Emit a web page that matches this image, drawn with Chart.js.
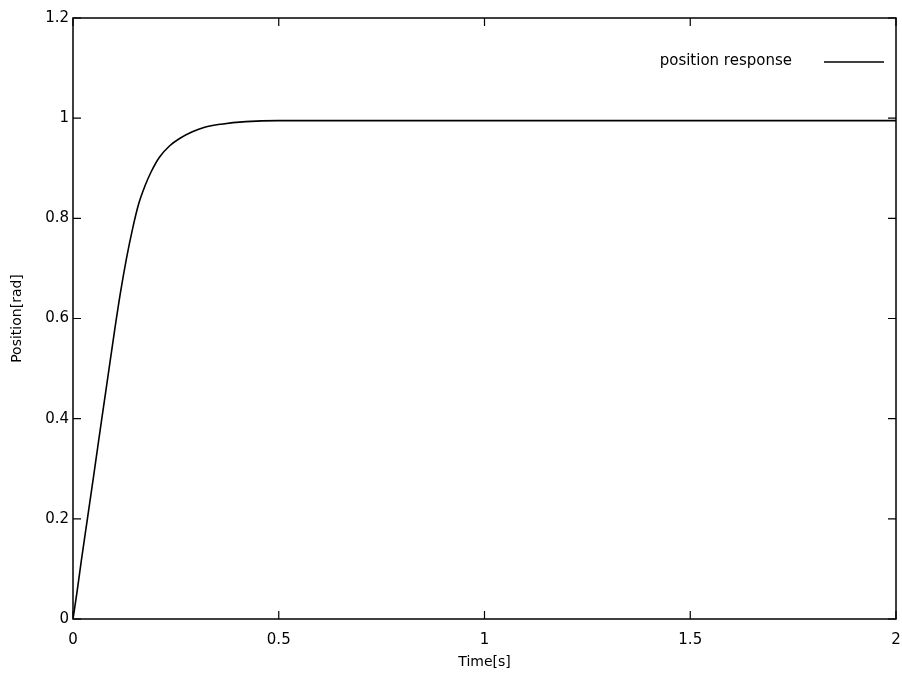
<!DOCTYPE html>
<html>
<head>
<meta charset="utf-8">
<script src="https://cdn.jsdelivr.net/npm/chart.js@4/dist/chart.umd.min.js"></script>
<style>
  html, body { margin: 0; padding: 0; background: #fff; }
  #wrap { width: 902px; height: 681px; }
</style>
</head>
<body>
<div id="wrap"><canvas id="response_chart" width="902" height="681"></canvas></div>
<script>
// values
const time_values = [0, 0.01, 0.02, 0.035, 0.05, 0.07, 0.085, 0.1, 0.115, 0.13, 0.145, 0.16, 0.175, 0.19, 0.21, 0.235, 0.26, 0.29, 0.32, 0.36, 0.42, 0.5, 0.75, 1.0, 1.5, 2.0];
const position_values = [0, 0.055, 0.115, 0.2, 0.285, 0.4, 0.485, 0.57, 0.65, 0.72, 0.78, 0.83, 0.865, 0.893, 0.922, 0.945, 0.96, 0.973, 0.982, 0.988, 0.993, 0.995, 0.995, 0.995, 0.995, 0.995];
const x_ticks = [0, 0.5, 1, 1.5, 2];
const y_ticks = [0, 0.2, 0.4, 0.6, 0.8, 1, 1.2];
const series_label = "position response";
const x_title = "Time[s]";
const y_title = "Position[rad]";

const font_family = "'DejaVu Sans', sans-serif";

// gnuplot style frame with inward ticks on all four sides plus key
const frame_plugin = {
  id: "frame_plugin",
  afterDatasetsDraw(chart) {
    const ctx = chart.ctx;
    const area = chart.chartArea;
    const xs = chart.scales.x;
    const ys = chart.scales.y;
    const tick_len = 8;
    ctx.save();
    ctx.strokeStyle = "#000";
    ctx.lineWidth = 1.5;
    ctx.strokeRect(area.left, area.top, area.right - area.left, area.bottom - area.top);
    ctx.lineWidth = 1.2;
    ctx.beginPath();
    x_ticks.forEach((t) => {
      const px = xs.getPixelForValue(t);
      ctx.moveTo(px, area.bottom);
      ctx.lineTo(px, area.bottom - tick_len);
      ctx.moveTo(px, area.top);
      ctx.lineTo(px, area.top + tick_len);
    });
    y_ticks.forEach((t) => {
      const py = ys.getPixelForValue(t);
      ctx.moveTo(area.left, py);
      ctx.lineTo(area.left + tick_len, py);
      ctx.moveTo(area.right, py);
      ctx.lineTo(area.right - tick_len, py);
    });
    ctx.stroke();

    // key: text then line sample, like gnuplot
    const key_y = area.top + 43;
    ctx.font = "15px " + font_family;
    ctx.fillStyle = "#000";
    ctx.textAlign = "right";
    ctx.textBaseline = "middle";
    ctx.fillText(chart.data.datasets[0].label, area.right - 104, key_y);
    ctx.lineWidth = 1.5;
    ctx.beginPath();
    ctx.moveTo(area.right - 72, key_y + 1);
    ctx.lineTo(area.right - 12, key_y + 1);
    ctx.stroke();
    ctx.restore();
  },
};

new Chart(document.getElementById("response_chart"), {
  type: "line",
  data: {
    datasets: [
      {
        label: series_label,
        data: time_values.map((t, i) => ({ x: t, y: position_values[i] })),
        borderColor: "#000",
        borderWidth: 1.6,
        pointRadius: 0,
        cubicInterpolationMode: "monotone",
        fill: false,
      },
    ],
  },
  options: {
    responsive: false,
    animation: false,
    layout: { padding: { top: 18, right: 6, left: 0, bottom: 0 } },
    plugins: {
      legend: { display: false },
      tooltip: { enabled: false },
    },
    scales: {
      x: {
        type: "linear",
        min: 0,
        max: 2,
        afterBuildTicks: (s) => { s.ticks = x_ticks.map((v) => ({ value: v })); },
        afterFit: (s) => {
          s.height = 62;
          s.paddingLeft = 0;
          s.paddingRight = 0;
        },
        grid: { display: false, drawTicks: false },
        border: { display: false },
        ticks: {
          color: "#000",
          padding: 12,
          maxRotation: 0,
          font: { family: font_family, size: 15 },
          callback: (v) => String(v),
        },
        title: {
          display: true,
          text: x_title,
          color: "#000",
          padding: { top: 0, bottom: 10 },
          font: { family: font_family, size: 14 },
        },
      },
      y: {
        type: "linear",
        min: 0,
        max: 1.2,
        afterBuildTicks: (s) => { s.ticks = y_ticks.map((v) => ({ value: v })); },
        afterFit: (s) => {
          s.width = 73;
          s.paddingTop = 0;
          s.paddingBottom = 0;
        },
        grid: { display: false, drawTicks: false },
        border: { display: false },
        ticks: {
          color: "#000",
          padding: 4,
          font: { family: font_family, size: 15 },
          callback: (v) => String(Math.round(v * 10) / 10),
        },
        title: {
          display: true,
          text: y_title,
          color: "#000",
          padding: { top: 9, bottom: 0 },
          font: { family: font_family, size: 14 },
        },
      },
    },
  },
  plugins: [frame_plugin],
});
</script>
</body>
</html>
